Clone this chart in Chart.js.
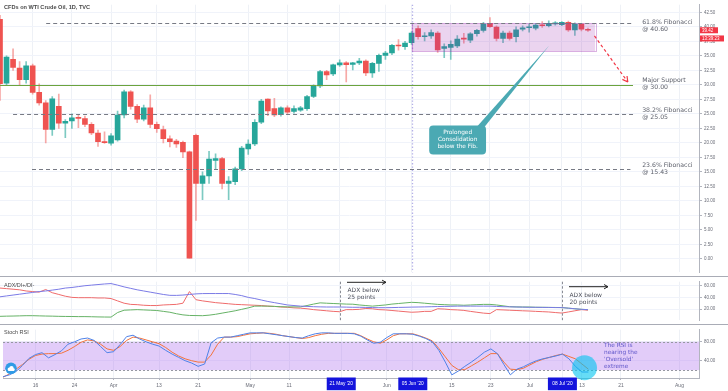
<!DOCTYPE html>
<html>
<head>
<meta charset="utf-8">
<title>CFDs on WTI Crude Oil, 1D</title>
<script src="https://cdn.jsdelivr.net/npm/chart.js@4.4.1/dist/chart.umd.min.js"></script>
<style>
  html, body { margin: 0; padding: 0; background: #fff; }
  #wrap { position: relative; width: 728px; height: 391px; overflow: hidden; background: #fff; }
  .pane { position: absolute; left: 0; width: 728px; }
</style>
</head>
<body>
<div id="wrap">
  <div class="pane" style="top:0;height:277px"><canvas id="priceChart" width="728" height="277"></canvas></div>
  <div class="pane" style="top:277px;height:48px"><canvas id="adxChart" width="728" height="48"></canvas></div>
  <div class="pane" style="top:325px;height:66px"><canvas id="rsiChart" width="728" height="66"></canvas></div>
</div>
<script>
// trading days shown on the axis (Mar 9 -> Aug 6, 2020)
const dates = [
  '2020-03-09','2020-03-10','2020-03-11','2020-03-12','2020-03-13','2020-03-16','2020-03-17','2020-03-18','2020-03-19','2020-03-20',
  '2020-03-23','2020-03-24','2020-03-25','2020-03-26','2020-03-27','2020-03-30','2020-03-31',
  '2020-04-01','2020-04-02','2020-04-03','2020-04-06','2020-04-07','2020-04-08','2020-04-09','2020-04-13','2020-04-14','2020-04-15',
  '2020-04-16','2020-04-17','2020-04-20','2020-04-21','2020-04-22','2020-04-23','2020-04-24','2020-04-27','2020-04-28','2020-04-29','2020-04-30',
  '2020-05-01','2020-05-04','2020-05-05','2020-05-06','2020-05-07','2020-05-08','2020-05-11','2020-05-12','2020-05-13','2020-05-14',
  '2020-05-15','2020-05-18','2020-05-19','2020-05-20','2020-05-21','2020-05-22','2020-05-25','2020-05-26','2020-05-27','2020-05-28','2020-05-29',
  '2020-06-01','2020-06-02','2020-06-03','2020-06-04','2020-06-05','2020-06-08','2020-06-09','2020-06-10','2020-06-11','2020-06-12',
  '2020-06-15','2020-06-16','2020-06-17','2020-06-18','2020-06-19','2020-06-22','2020-06-23','2020-06-24','2020-06-25','2020-06-26',
  '2020-06-29','2020-06-30',
  '2020-07-01','2020-07-02','2020-07-03','2020-07-06','2020-07-07','2020-07-08','2020-07-09','2020-07-10','2020-07-13','2020-07-14',
  '2020-07-15','2020-07-16','2020-07-17','2020-07-20','2020-07-21','2020-07-22','2020-07-23','2020-07-24','2020-07-27','2020-07-28',
  '2020-07-29','2020-07-30','2020-07-31',
  '2020-08-03','2020-08-04','2020-08-05','2020-08-06'
];

// daily OHLC
const opens = [41.3,30.3,34.4,32.9,30.9,33.3,28.7,26.9,22.3,26.3, 23.4,23.8,24.4,24.2,23.2,21.7,20.2,19.95,20.5,24.8,
  28.8,26.3,24.1,26.05,23.2,22.3,20.7,20.3,20.1,18.45, 21.3,13.0,14.3,16.95,17.3,13.0,13.3,15.5,18.95,19.8,
  23.55,27.55,25.9,24.85,26.05,25.4,25.65,25.9,28.0,29.8, 32.3,31.9,33.45,33.8,33.55,33.8,34.1,32.05,33.7,35.1,
  35.5,36.8,36.6,37.3,39.7,38.3,38.45,38.95,36.3,36.45, 36.7,38.05,37.7,38.85,39.4,40.6,39.95,38.0,38.95,38.3,
  39.6,39.85,39.8,40.3,40.2,40.5,40.4,40.8,39.5,40.5, 39.5];
const highs = [42.0,35.0,36.2,34.0,34.0,33.6,30.2,27.3,28.0,28.4, 24.0,25.0,24.9,24.6,23.5,22.2,21.9,21.6,25.5,29.1,
  29.0,26.6,26.5,28.3,23.6,22.9,21.2,20.6,20.3,18.6, 21.5,15.0,18.55,18.1,17.5,14.2,15.8,19.4,20.5,24.0,
  27.5,27.6,27.7,26.2,26.4,26.4,26.3,28.2,30.0,32.5, 32.5,33.6,34.3,34.0,33.9,34.6,34.3,33.9,35.3,35.8,
  37.0,37.8,37.5,39.2,40.2,39.0,39.5,39.2,37.1,37.6, 38.5,38.9,39.0,39.6,40.8,41.6,40.2,39.3,39.3,40.0,
  40.2,40.5,40.6,40.9,41.05,40.9,40.9,41.0,40.7,40.6, 39.8];
const lows = [27.3,29.9,32.5,30.0,30.3,28.4,26.5,20.0,21.3,22.5, 20.9,22.5,22.6,22.8,21.4,19.4,19.9,19.6,20.3,24.3,
  25.8,23.5,23.8,22.6,21.8,20.0,19.3,19.2,17.45,0.1, 6.6,10.2,13.0,15.5,12.05,10.2,12.8,15.2,18.0,19.5,
  23.3,24.7,24.5,24.6,25.0,25.1,25.4,25.6,27.8,29.5, 30.9,31.6,33.2,30.5,32.6,33.5,31.6,31.3,32.3,34.4,
  35.2,36.0,36.1,37.0,37.9,37.6,38.0,35.6,34.7,34.4, 36.4,37.2,37.3,38.4,39.1,39.9,37.6,37.3,37.7,37.4,
  39.3,39.1,39.5,39.9,40.0,40.3,40.2,39.2,38.55,39.3, 39.2];
const closes = [30.2,34.8,33.0,30.9,33.3,28.7,26.9,22.3,27.6,23.4, 23.7,24.3,24.2,23.2,21.7,20.2,20.05,21.2,24.8,28.8,
  26.3,24.1,26.05,23.2,22.45,20.7,20.2,19.8,18.45,0.1, 13.0,14.3,17.2,17.3,13.0,13.4,15.5,19.1,19.8,23.55,
  27.2,25.5,24.8,26.05,25.3,25.9,26.05,28.0,29.8,32.3, 31.7,33.45,33.8,33.5,33.8,34.1,32.05,33.7,35.1,35.5,
  36.8,36.7,37.2,38.95,38.3,38.4,39.0,36.05,36.6,37.0, 37.9,37.9,38.8,39.4,40.5,40.05,38.0,38.95,38.0,39.5,
  39.85,39.95,40.3,40.2,40.6,40.7,40.78,39.5,40.5,39.6, 39.42];

// ADX / DI+ / DI-
const adx = [41,42.5,44,45.5,47,48.5,50,51,52.5,54, 56,57,58.5,60,61,62,63,63.7,61,58,
  55.5,53,51,49,47,45,43.5,43.4,44,45, 46,46.5,46.6,46.6,46.6,46.6,45,43,40,38,
  35.5,33,31,29,27,26,25,24.5,24,23.7, 23.5,23.5,23.5,23.3,23,23,22.8,22.5,22.3,22.3,
  22.5,22.8,23,23.3,23.5,23.7,24,24.3,24.5,24.7, 25,25,25,25,25,25,24.5,24,23.8,23.5,
  23.3,23,23,22.8,22.8,22.5,22.5,21.5,20.5,19.5, 19];
const diPlus = [7.5,7.8,8,8.3,8.6,8.6,8.3,8,7.8,7.5, 7.3,7.2,7,7,6.8,6.5,6.3,6.2,14,18,
  18.5,19,18.5,18,17.5,16,14.5,12,10,9, 8.8,8.6,9.5,11,13,15,17,19.5,22,25,
  25,25,24.5,24,23.7,23.7,23.7,26,28.5,30.6, 30,29.5,29,28.5,28.3,27,26,25,26,27,
  28.5,29.5,30.5,31.5,31,30,29,28,27.5,27, 27,26.5,27,27.5,28,28,27,25.5,24,23.7,
  23.5,23.5,23,23,22.8,22.7,22.5,21.5,20.5,19.5, 19];
const diMinus = [56,55,54,53,51,50,49,53.5,48,45, 42,40,39.5,39.5,39.5,39,39,38,34,30,
  28,27.5,26.5,26,26,27,27.5,28,30,50, 36,34,32.5,31,30,29,28,27.5,27,26.5,
  26,25,24.5,23.5,23,22,21.5,20.5,19,18, 17,16,15.4,19,19,19.5,21,20.5,19,18.5,
  17.5,16.5,15.5,14.5,15,16,16,20.5,20,19, 18.5,17.7,16,14.5,13,12.2,19,18.5,18,17.5,
  17,16.6,16,15.5,15,14,13.1,15,17,19, 18];

// Stoch RSI %K / %D
const stochK = [6,10,17,30,45,53,57,46,53,61, 75,80,86,88,83,70,57,59,74,91,
  94,86,80,75,71,62,54,47,40,35, 28,33,78,88,90,90,93,96,99,99,
  99,97,95,93,91,89,88,93,97,99, 99,98,98,98,97,92,84,77,79,89,
  97,97,97,96,92,87,80,62,37,10, 18,28,37,47,58,65,55,32,10,22,
  27,34,40,44,47,50,54,44,28,16, 16];
const stochD = [5,12,22,32,43,51,54,55,55,56, 62,70,79,84,82,75,65,62,70,83,
  90,88,84,80,76,68,58,50,44,40, 37,37,52,75,90,90,91,94,97,98,
  99,98,96,93,91,89,87,89,93,96, 98,98,98,98,98,93,86,80,77,84,
  93,97,97,97,93,88,82,66,48,30, 21,21,29,37,46,55,55,37,22,21,
  24,31,38,43,47,51,54,49,44,33, 22];

// axis labels
const tickDates = ['2020-03-16','2020-03-24','2020-04-01','2020-04-13','2020-04-21','2020-05-01','2020-05-11','2020-05-21','2020-06-01',
  '2020-06-05','2020-06-15','2020-06-23','2020-07-01','2020-07-08','2020-07-13','2020-07-21','2020-08-03'];
const tickText = ['16','24','Apr','13','21','May','11',"21 May '20",'Jun',"05 Jun '20",'15','23','Jul',"08 Jul '20",'13','21','Aug'];
const markedDates = ['2020-05-21','2020-06-05','2020-07-08'];

// price levels
const levelValues = [40.60, 30.00, 25.05, 15.43];
const levelNames = ['61.8% Fibonacci', 'Major Support', '38.2% Fibonacci', '23.6% Fibonacci'];
const lastPrice = 39.42;

const tickAt = {};
tickDates.forEach(function(d, k) { tickAt[dates.indexOf(d)] = tickText[k]; });

const up = '#26a69a', down = '#ef5350';
const bodyColors = closes.map((c, i) => c >= opens[i] ? up : down);
const wickColors = closes.map((c, i) => c >= opens[i] ? 'rgba(38,166,154,0.6)' : 'rgba(239,83,80,0.5)');

const axisColor = '#6a6d78';
const lineColor = '#b2b5be';
const noteFont = '"DejaVu Sans", sans-serif';

function xAxis(showLabels) {
    return {
        type: 'category',
        offset: false,
        grid: {
            offset: false,
            color: c => (c.index in tickAt) ? '#eef1f6' : 'rgba(0,0,0,0)',
            drawTicks: showLabels,
            tickLength: 2,
            tickColor: c => (c.index in tickAt) ? lineColor : 'rgba(0,0,0,0)'
        },
        ticks: {
            display: showLabels,
            autoSkip: false,
            maxRotation: 0,
            padding: 3,
            color: axisColor,
            font: { family: 'Liberation Sans', size: 5 },
            callback: (v, i) => (i in tickAt && markedDates.indexOf(dates[i]) < 0) ? tickAt[i] : ''
        },
        border: { display: showLabels, color: lineColor },
        afterFit: s => { s.height = showLabels ? 13 : 0; }
    };
}

function yAxis(min, max, step) {
    return {
        position: 'right',
        min: min,
        max: max,
        ticks: {
            stepSize: step,
            includeBounds: false,
            padding: 2,
            color: axisColor,
            font: { family: 'Liberation Sans', size: 4.5 },
            callback: v => v < 0 ? '' : v.toFixed(2)
        },
        grid: { color: '#f0f3fa', tickLength: 3, tickColor: lineColor },
        border: { color: lineColor },
        afterFit: s => { s.width = 29; }
    };
}

function baseOptions(scales) {
    return {
        responsive: false,
        animation: false,
        events: [],
        layout: { padding: 0, autoPadding: false },
        plugins: { legend: { display: false }, tooltip: { enabled: false } },
        scales: scales
    };
}

function seg(ctx, x1, y1, x2, y2) {
    ctx.beginPath();
    ctx.moveTo(x1, y1);
    ctx.lineTo(x2, y2);
    ctx.stroke();
}

function arrowHead(ctx, x1, y1, x2, y2, len) {
    var ang = Math.atan2(y2 - y1, x2 - x1);
    seg(ctx, x2, y2, x2 - len * Math.cos(ang - 0.5), y2 - len * Math.sin(ang - 0.5));
    seg(ctx, x2, y2, x2 - len * Math.cos(ang + 0.5), y2 - len * Math.sin(ang + 0.5));
}

function text(ctx, s, x, y, font, color, align) {
    ctx.font = font;
    ctx.fillStyle = color;
    ctx.textAlign = align || 'left';
    ctx.textBaseline = 'middle';
    ctx.fillText(s, x, y);
}

function separator(chart) {
    var ctx = chart.ctx;
    ctx.save();
    ctx.strokeStyle = '#a9acb6';
    ctx.lineWidth = 1;
    seg(ctx, 0, chart.height - 0.5, chart.width, chart.height - 0.5);
    ctx.restore();
}

// Price pane drawings
const priceDecor = {
    id: 'priceDecor',
    beforeDatasetsDraw(chart) {
        const { ctx, chartArea: a, scales: { x } } = chart;
        const mx = Math.round(x.getPixelForValue(dates.indexOf('2020-06-05'))) + 0.5;
        ctx.save();
        ctx.strokeStyle = '#b4b0e8';
        ctx.lineWidth = 1.3;
        ctx.setLineDash([1.3, 2]);
        seg(ctx, mx, a.top, mx, a.bottom);
        ctx.restore();
    },
    afterDatasetsDraw(chart) {
        const { ctx, scales: { x, y } } = chart;
        const px = i => x.getPixelForValue(i), py = v => y.getPixelForValue(v);
        ctx.save();
        // consolidation box
        const rx1 = px(dates.indexOf('2020-06-05')), rx2 = px(91.1);
        const ry1 = py(40.6), ry2 = py(35.8);
        ctx.fillStyle = 'rgba(156,39,176,0.2)';
        ctx.fillRect(rx1, ry1, rx2 - rx1, ry2 - ry1);
        ctx.strokeStyle = 'rgba(156,39,176,0.35)';
        ctx.lineWidth = 1;
        ctx.strokeRect(Math.round(rx1) + 0.5, Math.round(ry1) + 0.5, Math.round(rx2 - rx1), Math.round(ry2 - ry1));

        // fib / support levels
        const starts = [7.07, 0, 2, 4.9], ends = [96.9, 96.9, 96.9, 96.5], shift = [2.2, -1, 0, 0];
        levelValues.forEach(function(v, k) {
            const ly = Math.round(py(v)) + 0.5;
            if (k === 1) {
                ctx.strokeStyle = '#6ba33d';
                ctx.setLineDash([]);
            } else {
                ctx.strokeStyle = '#777a84';
                ctx.setLineDash([4, 3]);
            }
            ctx.lineWidth = 1;
            seg(ctx, px(starts[k]), ly, px(ends[k]), ly);
            ctx.setLineDash([]);
            const lx = px(98.3);
            text(ctx, levelNames[k], lx, ly - 3.7 + shift[k], '6.2px ' + noteFont, '#5d606b');
            text(ctx, '@ ' + v.toFixed(2), lx, ly + 3.3 + shift[k], '6.2px ' + noteFont, '#5d606b');
        });
        ctx.restore();
    },
    afterDraw(chart) {
        const { ctx, chartArea: a, scales: { x, y } } = chart;
        const px = i => x.getPixelForValue(i), py = v => y.getPixelForValue(v);
        ctx.save();
        text(ctx, 'CFDs on WTI Crude Oil, 1D, TVC', 4, 7, 'bold 5.6px "Liberation Sans"', '#4a4a4a');

        // callout bubble + pointer
        const bx1 = px(65.7), bx2 = px(74.4), by1 = py(23), by2 = py(18);
        ctx.fillStyle = '#4ba9b3';
        ctx.beginPath();
        ctx.moveTo(px(72.9), by1 + 2);
        ctx.lineTo(px(84.1), py(36.83));
        ctx.lineTo(px(74.1), by1 + 2);
        ctx.closePath();
        ctx.fill();
        ctx.beginPath();
        ctx.roundRect(bx1, by1, bx2 - bx1, by2 - by1, 4);
        ctx.fill();
        const cx = (bx1 + bx2) / 2;
        text(ctx, 'Prolonged', cx, by1 + 7.5, '5.8px ' + noteFont, '#fff', 'center');
        text(ctx, 'Consolidation', cx, by1 + 14.3, '5.8px ' + noteFont, '#fff', 'center');
        text(ctx, 'below the Fib.', cx, by1 + 21, '5.8px ' + noteFont, '#fff', 'center');

        // projected move to support
        const ax1 = px(91), ay1 = py(38.45), ax2 = px(96.1), ay2 = py(30.5);
        ctx.strokeStyle = '#f23645';
        ctx.lineWidth = 1.2;
        ctx.setLineDash([3, 2.5]);
        seg(ctx, ax1, ay1, ax2, ay2);
        ctx.setLineDash([]);
        arrowHead(ctx, ax1, ay1, ax2, ay2, 6);

        // last price badges
        const ly = py(lastPrice);
        ctx.fillStyle = '#f23645';
        ctx.fillRect(a.right + 1, ly - 3, 18, 6);
        ctx.fillRect(a.right + 1, ly + 5.2, 24, 6);
        text(ctx, lastPrice.toFixed(2), a.right + 3, ly, '4.5px "Liberation Sans"', '#fff');
        text(ctx, '13:39:23', a.right + 3, ly + 8.2, '4.5px "Liberation Sans"', '#fff');
        ctx.restore();
        separator(chart);
    }
};

// ADX pane drawings
const adxDecor = {
    id: 'adxDecor',
    afterDraw(chart) {
        const { ctx, chartArea: a, scales: { x } } = chart;
        ctx.save();
        text(ctx, 'ADX/DI+/DI-', 4, 8, '5.5px "Liberation Sans"', '#4a4a4a');
        const notes = [
            { date: '2020-05-21', arrowY: 5.3, textY: 13, lines: ['ADX below', '25 points'] },
            { date: '2020-07-08', arrowY: 9.7, textY: 18, lines: ['ADX below', '20 points'] }
        ];
        notes.forEach(function(n) {
            const lx = Math.round(x.getPixelForValue(dates.indexOf(n.date))) + 0.5;
            ctx.strokeStyle = '#8a8d96';
            ctx.lineWidth = 1;
            ctx.setLineDash([2.5, 2]);
            seg(ctx, lx, a.top, lx, a.bottom);
            ctx.setLineDash([]);
            ctx.strokeStyle = '#222';
            seg(ctx, lx + 6.5, n.arrowY, lx + 45.5, n.arrowY);
            arrowHead(ctx, lx + 6.5, n.arrowY, lx + 45.5, n.arrowY, 4.5);
            text(ctx, n.lines[0], lx + 7, n.textY, '6px ' + noteFont, '#50535e');
            text(ctx, n.lines[1], lx + 7, n.textY + 7.4, '6px ' + noteFont, '#50535e');
        });
        ctx.restore();
        separator(chart);
    }
};

// Stoch RSI pane drawings
const rsiDecor = {
    id: 'rsiDecor',
    beforeDatasetsDraw(chart) {
        const { ctx, chartArea: a, scales: { y } } = chart;
        const y80 = y.getPixelForValue(80), y20 = y.getPixelForValue(20);
        ctx.save();
        ctx.fillStyle = 'rgba(180,120,240,0.38)';
        ctx.fillRect(a.left, y80, a.right - a.left, y20 - y80);
        ctx.strokeStyle = '#9598a1';
        ctx.lineWidth = 1;
        ctx.setLineDash([2, 2]);
        seg(ctx, a.left, Math.round(y80) + 0.5, a.right, Math.round(y80) + 0.5);
        seg(ctx, a.left, Math.round(y20) + 0.5, a.right, Math.round(y20) + 0.5);
        ctx.restore();
    },
    afterDatasetsDraw(chart) {
        const { ctx, chartArea: a, scales: { x, y } } = chart;
        ctx.save();
        text(ctx, 'Stoch RSI', 4, 7.3, '5.5px "Liberation Sans"', '#4a4a4a');
        // highlight circle
        ctx.fillStyle = 'rgba(0,196,240,0.6)';
        ctx.beginPath();
        ctx.arc(x.getPixelForValue(89.4), y.getPixelForValue(25), 12.5, 0, Math.PI * 2);
        ctx.fill();
        const tx = x.getPixelForValue(92.4);
        ['The RSI is', 'nearing the', "'Oversold'", 'extreme'].forEach(function(s, k) {
            text(ctx, s, tx, 20.3 + k * 6.9, '5.8px ' + noteFont, '#5f55c9');
        });
        // small logo in the corner
        ctx.fillStyle = '#2f9be6';
        ctx.beginPath();
        ctx.arc(11, 43.3, 5.8, 0, Math.PI * 2);
        ctx.fill();
        ctx.fillStyle = '#fff';
        ctx.beginPath();
        ctx.arc(9.3, 44.3, 1.7, 0, Math.PI * 2);
        ctx.arc(11.5, 43.2, 2.2, 0, Math.PI * 2);
        ctx.arc(13.4, 44.6, 1.4, 0, Math.PI * 2);
        ctx.fill();
        ctx.fillRect(8.5, 44.6, 5.5, 1.4);
        ctx.restore();
    },
    afterDraw(chart) {
        const { ctx, chartArea: a, scales: { x } } = chart;
        ctx.save();
        markedDates.forEach(function(d) {
            const i = dates.indexOf(d);
            const cx = x.getPixelForValue(i);
            ctx.fillStyle = '#1414dc';
            ctx.fillRect(cx - 14.5, a.bottom - 0.5, 29, 12.7);
            text(ctx, tickAt[i], cx, a.bottom + 6, '4.8px "Liberation Sans"', '#fff', 'center');
        });
        ctx.restore();
    }
};

new Chart(document.getElementById('priceChart'), {
    type: 'bar',
    data: {
        labels: dates,
        datasets: [{
            label: 'wick',
            data: lows.map((l, i) => [l, highs[i]]),
            backgroundColor: wickColors,
            barThickness: 1,
            grouped: false,
            order: 2
        }, {
            label: 'body',
            data: opens.map((o, i) => [o, closes[i]]),
            backgroundColor: bodyColors,
            barThickness: 5,
            minBarLength: 1,
            grouped: false,
            order: 1
        }]
    },
    options: baseOptions({ x: xAxis(false), y: yAxis(-2.33, 43.83, 2.5) }),
    plugins: [priceDecor]
});

new Chart(document.getElementById('adxChart'), {
    type: 'line',
    data: {
        labels: dates,
        datasets: [
            { label: 'ADX', data: adx, borderColor: '#7b7be6', borderWidth: 1, pointRadius: 0 },
            { label: 'DI+', data: diPlus, borderColor: '#66b266', borderWidth: 1, pointRadius: 0 },
            { label: 'DI-', data: diMinus, borderColor: '#ef6b6b', borderWidth: 1, pointRadius: 0 }
        ]
    },
    options: baseOptions({ x: xAxis(false), y: yAxis(0.69, 66.9, 20) }),
    plugins: [adxDecor]
});

new Chart(document.getElementById('rsiChart'), {
    type: 'line',
    data: {
        labels: dates,
        datasets: [
            { label: '%K', data: stochK, borderColor: '#4f82e8', borderWidth: 1, pointRadius: 0 },
            { label: '%D', data: stochD, borderColor: '#f3733d', borderWidth: 1, pointRadius: 0 }
        ]
    },
    options: baseOptions({ x: xAxis(true), y: yAxis(3.3, 105.7, 40) }),
    plugins: [rsiDecor]
});
</script>
</body>
</html>
